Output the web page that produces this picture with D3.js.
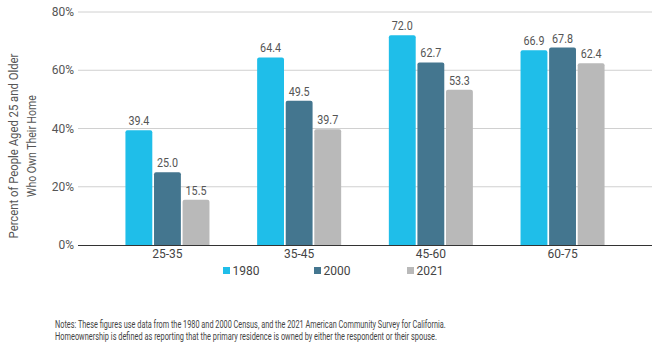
<!DOCTYPE html>
<html><head><meta charset="utf-8">
<script src="https://cdn.jsdelivr.net/npm/d3@7"></script>
<style>
body{margin:0;background:#fff;}
text{font-family:"Roboto","DejaVu Sans Condensed",sans-serif;}
</style></head>
<body><svg id="c" width="670" height="356"></svg>
<script>
const categories = ["25-35","35-45","45-60","60-75"];
const seriesNames = ["1980","2000","2021"];
const values1980 = [39.4, 64.4, 72.0, 66.9];
const values2000 = [25.0, 49.5, 62.7, 67.8];
const values2021 = [15.5, 39.7, 53.3, 62.4];
const yTicks = [0,20,40,60,80];
const colors = ["#1fbee9","#44768f","#b9b9b9"];
const yTitle = ["Percent of People Aged 25 and Older","Who Own Their Home"];
const notes = ["Notes: These figures use data from the 1980 and 2000 Census, and the 2021 American Community Survey for California.",
"Homeownership is defined as reporting that the primary residence is owned by either the respondent or their spouse."];

const series = [values1980, values2000, values2021];
const svg = d3.select("#c");
const y = d3.scaleLinear().domain([0,80]).range([245,12]);
const x0 = d3.scaleBand().domain(categories).range([101.6,628.4]).paddingInner(0.362).paddingOuter(0.181);
const x1 = d3.scaleBand().domain(seriesNames).range([0,x0.bandwidth()]).paddingInner(0.06);

// fit text to a target width by horizontal scaling
function fit(sel, w){
  const n = sel.node(); const L = n.getComputedTextLength();
  return L>0 ? w/L : 1;
}

// gridlines
svg.append("g").selectAll("line").data(yTicks.filter(d=>d>0)).join("line")
  .attr("x1",78).attr("x2",652).attr("y1",d=>y(d)).attr("y2",d=>y(d))
  .attr("stroke","#d0d0d0").attr("stroke-width",1);
// y labels
svg.append("g").selectAll("text").data(yTicks).join("text")
  .attr("x",74).attr("y",d=>y(d)+4).attr("text-anchor","end")
  .attr("font-size",12).attr("fill","#555").text(d=>d+"%");

// bars
const g = svg.append("g");
categories.forEach((c,i)=>{
  seriesNames.forEach((s,j)=>{
    const v = series[j][i];
    const bx = x0(c)+x1(s), bw = x1.bandwidth();
    g.append("path")
      .attr("d",()=>{const r=2, top=y(v), bot=y(0);
        return `M${bx},${bot}V${top+r}Q${bx},${top} ${bx+r},${top}H${bx+bw-r}Q${bx+bw},${top} ${bx+bw},${top+r}V${bot}Z`;})
      .attr("fill",colors[j]);
    const t = g.append("text").attr("text-anchor","middle")
      .attr("font-size",12).attr("fill","#555").text(v.toFixed(1));
    const k = fit(t, 21);
    t.attr("transform",`translate(${bx+bw/2},${y(v)-5}) scale(${k},1)`);
  });
});

// axis line
svg.append("line").attr("x1",78).attr("x2",652).attr("y1",y(0)+0.5).attr("y2",y(0)+0.5)
  .attr("stroke","#333").attr("stroke-width",1.2);
// x labels
svg.append("g").selectAll("text").data(categories).join("text")
  .attr("x",d=>x0(d)+x0.bandwidth()/2).attr("y",258).attr("text-anchor","middle")
  .attr("font-size",12).attr("fill","#444").text(d=>d);

// y title
const titleLen = [185, 102];
yTitle.forEach((t,i)=>{
  const el = svg.append("text").attr("text-anchor","middle")
    .attr("font-size",12).attr("fill","#555").text(t);
  const k = fit(el, titleLen[i]);
  el.attr("transform",`translate(${18+i*18},146) rotate(-90) scale(${k},1)`);
});

// legend
const legX = [223, 314, 407];
seriesNames.forEach((s,j)=>{
  svg.append("rect").attr("x",legX[j]).attr("y",267).attr("width",7).attr("height",7).attr("fill",colors[j]);
  svg.append("text").attr("x",legX[j]+9.5).attr("y",275).attr("font-size",12).attr("fill","#444").text(s);
});

// notes
const noteW = [391, 382];
notes.forEach((t,i)=>{
  const el = svg.append("text").attr("font-size",10.5).attr("fill","#444").text(t);
  const k = fit(el, noteW[i]);
  el.attr("transform",`translate(55,${328+i*12}) scale(${k},1)`);
});
</script></body></html>
